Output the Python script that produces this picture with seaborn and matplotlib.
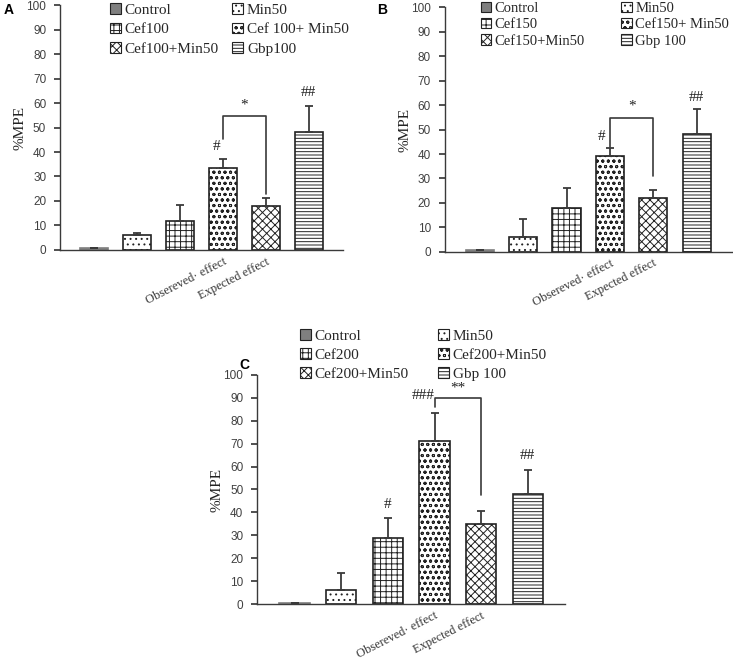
import numpy as np
import pandas as pd
import matplotlib
matplotlib.use("Agg")
import matplotlib.pyplot as plt
import seaborn as sns
from matplotlib.patches import Patch
from matplotlib.transforms import ScaledTranslation

# data
groups = ["Control", "Min50", "Cef", "Observed", "Expected", "Gbp"]
tick_labels = ["", "", "", "Obsereved\u00b7 effect", "Expected effect", ""]

values_a = [0.7, 6.0, 12.0, 33.5, 18.0, 48.3]
errors_a = [0.0, 1.0, 6.5, 3.5, 3.0, 10.5]
legend_a = ["Control", "Min50", "Cef100", "Cef 100+ Min50", "Cef100+Min50", "Gbp100"]

values_b = [0.8, 6.0, 18.0, 39.0, 22.0, 48.0]
errors_b = [0.0, 7.5, 8.0, 3.5, 3.3, 10.5]
legend_b = ["Control", "Min50", "Cef150", "Cef150+ Min50", "Cef150+Min50", "Gbp 100"]

values_c = [0.5, 6.0, 29.0, 71.0, 35.0, 48.0]
errors_c = [0.0, 7.5, 8.5, 12.5, 5.5, 10.5]
legend_c = ["Control", "Min50", "Cef200", "Cef200+Min50", "Cef200+Min50", "Gbp 100"]

# significance marks: (text, x, y)
marks_a = [("#", 2.85, 39.5), ("*", 3.5, 56.5), ("##", 5, 61.5)]
marks_b = [("#", 2.8, 44.5), ("*", 3.5, 57.0), ("##", 5, 60.5)]
marks_c = [("#", 2, 40.5), ("###", 2.75, 88.0), ("**", 3.5, 91.5), ("##", 5, 62.0)]
# bracket: top, left leg bottom, right leg bottom
bracket_a = [54.7, 45.5, 23.0]
bracket_b = [54.7, 43.0, 31.0]
bracket_c = [89.8, 86.0, 47.7]

sns.set_theme(style="white")
plt.rcParams["font.family"] = ["Liberation Sans", "DejaVu Sans"]
plt.rcParams["hatch.linewidth"] = 0.7

face = ["#7f7f7f", "white", "white", "white", "white", "white"]
hatches = [None, "...", "+++", "ooo", "xxxx", "-----"]
ink = "#3a3a3a"


def draw_panel(ax, values, errors, legend_labels, marks, bracket, letter, letter_xy,
               leg_anchor, colspace, leg_size, leg_gap):
    df = pd.DataFrame({"group": groups, "value": values})
    sns.barplot(data=df, x="group", y="value", color="white", width=0.65,
                edgecolor="black", linewidth=1.2, ax=ax)
    for p, fc, h in zip(ax.patches, face, hatches):
        p.set_facecolor(fc)
        p.set_edgecolor("#222222" if h else fc)
        if h:
            p.set_hatch(h)
    x = np.arange(len(values))
    ax.errorbar(x, values, yerr=[np.zeros(len(errors)), errors], fmt="none",
                ecolor=ink, elinewidth=1.3, capsize=3, capthick=1.3)

    ax.set_ylim(0, 100)
    ax.set_yticks(range(0, 101, 10))
    ax.set_xlim(-0.8, 5.8)
    ax.set_xticks(x)
    ax.set_xticklabels(tick_labels, rotation=27, ha="right", rotation_mode="anchor",
                       family="Liberation Serif", fontsize=9, color="#333333")
    offset = ScaledTranslation(0.28, 0.05, ax.figure.dpi_scale_trans)
    for lbl in ax.get_xticklabels():
        lbl.set_transform(lbl.get_transform() + offset)
    ax.tick_params(axis="x", length=0, pad=4)
    ax.tick_params(axis="y", labelsize=8.5, labelcolor="#404040", length=4,
                   direction="out", left=True, color=ink, pad=6)
    ax.set_xlabel("")
    ax.set_ylabel("%MPE", family="Liberation Serif", fontsize=11, color="#222222", labelpad=0)
    for s in ["top", "right"]:
        ax.spines[s].set_visible(False)
    for s in ["left", "bottom"]:
        ax.spines[s].set_color(ink)
        ax.spines[s].set_linewidth(1.0)

    top, lb, rb = bracket
    ax.plot([3, 3, 4, 4], [lb, top, top, rb], color=ink, lw=1.2)
    for t, mx, my in marks:
        ax.text(mx, my, t, ha="center", va="bottom", family="Liberation Serif",
                fontsize=11, color="#222222")

    handles = [Patch(facecolor=fc, edgecolor="#222222", hatch=h, linewidth=0.8)
               for fc, h in zip(face, hatches)]
    order = [0, 2, 4, 1, 3, 5]
    ax.legend([handles[i] for i in order], [legend_labels[i] for i in order],
              ncol=2, loc="upper left", bbox_to_anchor=leg_anchor, frameon=False,
              prop={"family": "Liberation Serif", "size": leg_size},
              handlelength=0.7, handleheight=0.7, handletextpad=0.25,
              labelspacing=leg_gap, columnspacing=colspace, borderaxespad=0)

    ax.figure.text(letter_xy[0], letter_xy[1], letter, fontsize=10, fontweight="bold",
                   ha="left", va="top", color="black")


fig = plt.figure(figsize=(7.33, 6.61), dpi=100)
ax_a = fig.add_axes([0.082, 0.622, 0.386, 0.370])
ax_b = fig.add_axes([0.607, 0.619, 0.391, 0.370])
ax_c = fig.add_axes([0.351, 0.086, 0.420, 0.347])

draw_panel(ax_a, values_a, errors_a, legend_a, marks_a, bracket_a, "A",
           (0.005, 0.995), (0.155, 1.035), 0.9, 11, 0.4)
draw_panel(ax_b, values_b, errors_b, legend_b, marks_b, bracket_b, "B",
           (0.515, 0.995), (0.105, 1.045), 2.5, 10.5, 0.2)
draw_panel(ax_c, values_c, errors_c, legend_c, marks_c, bracket_c, "C",
           (0.327, 0.458), (0.12, 1.225), 1.9, 11, 0.35)

fig.savefig("out.png", dpi=100)
